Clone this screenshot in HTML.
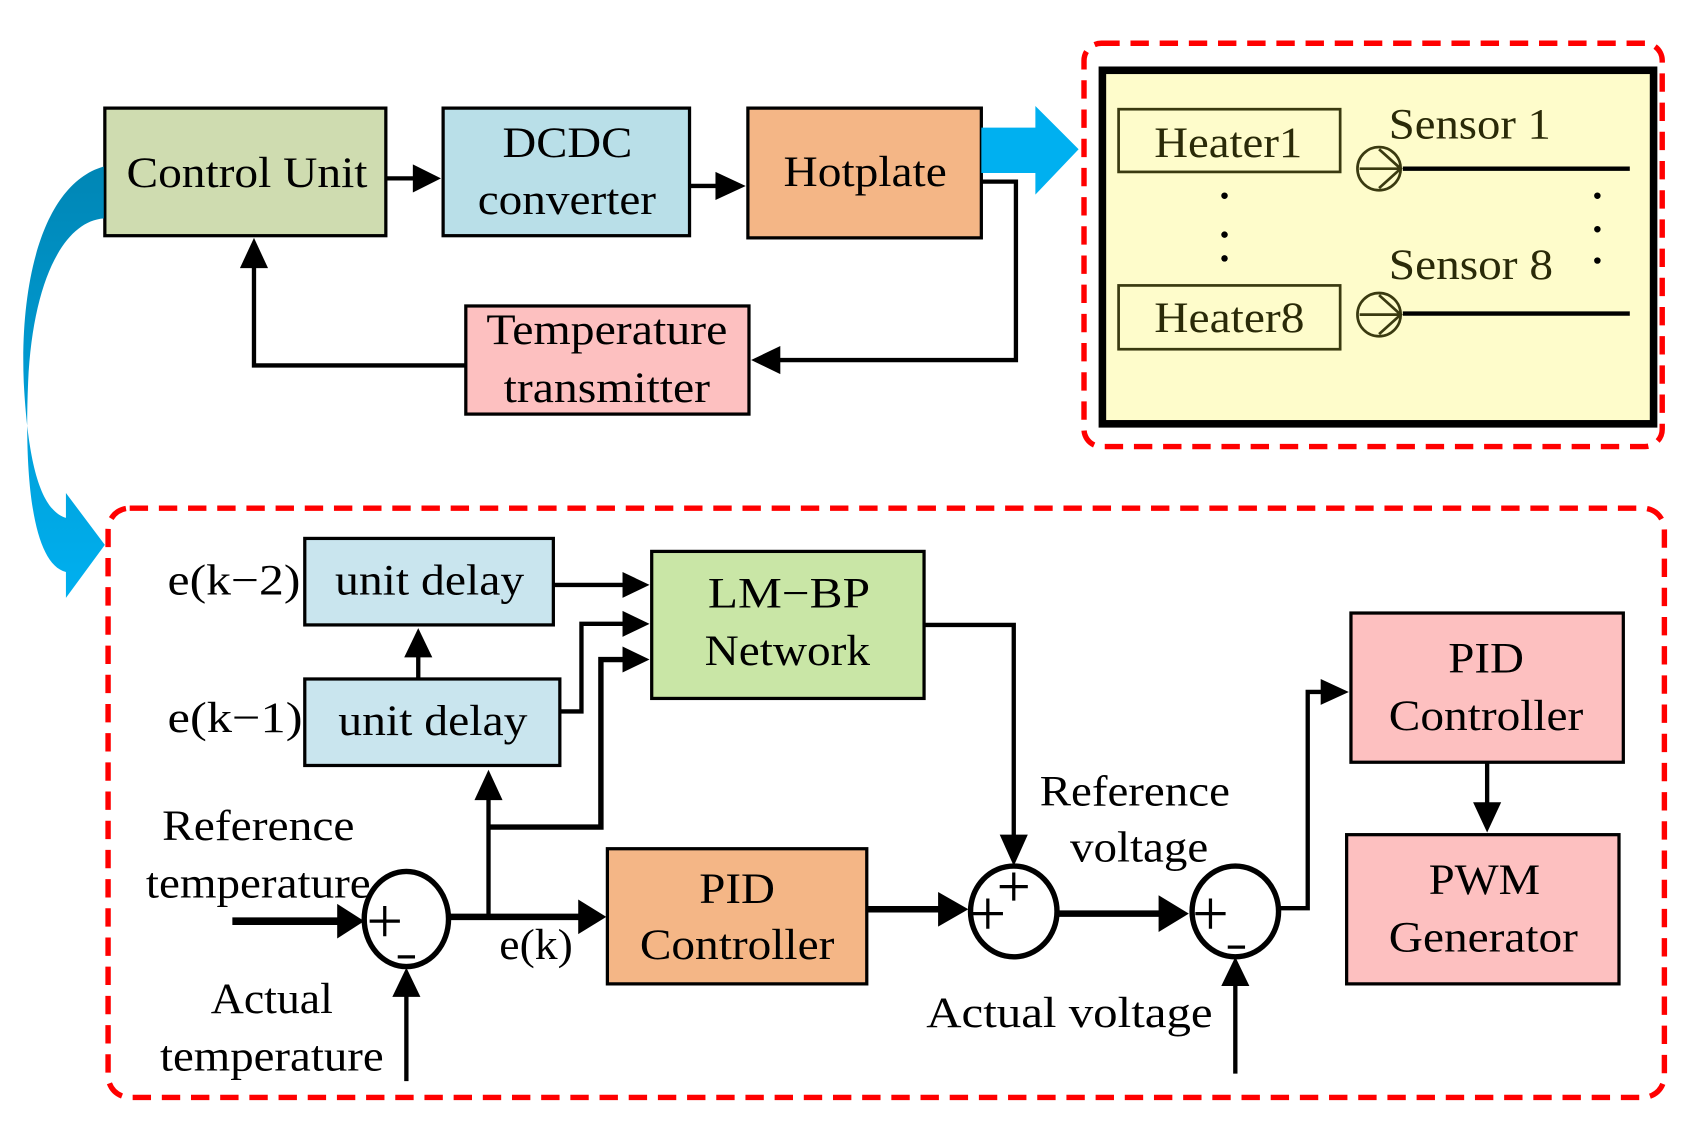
<!DOCTYPE html>
<html><head><meta charset="utf-8"><style>html,body{margin:0;padding:0;background:#fff}svg{display:block}</style></head>
<body>
<svg width="1686" height="1132" viewBox="0 0 1560 1047" preserveAspectRatio="none" xmlns="http://www.w3.org/2000/svg" font-family="'Liberation Serif', serif" font-size="40">
<defs>
<linearGradient id="g" x1="0" y1="0" x2="0" y2="1"><stop offset="0" stop-color="#0086b5"/><stop offset="1" stop-color="#00b0f0"/></linearGradient>
</defs>
<style>
.b{stroke:#000;stroke-width:3}
.l{stroke:#000;stroke-width:4;fill:none}
text{fill:#000}
</style>
<!-- top blocks -->
<rect x="97" y="100" width="260" height="118" fill="#cfdcb0" class="b"/>
<text x="117" y="173" textLength="223" lengthAdjust="spacingAndGlyphs">Control Unit</text>
<rect x="410" y="100" width="228" height="118" fill="#b9dfe8" class="b"/>
<text x="465" y="145" textLength="120" lengthAdjust="spacingAndGlyphs">DCDC</text>
<text x="442" y="198" textLength="165" lengthAdjust="spacingAndGlyphs">converter</text>
<rect x="692" y="100" width="216" height="120" fill="#f4b686" class="b"/>
<text x="725" y="172" textLength="151" lengthAdjust="spacingAndGlyphs">Hotplate</text>
<rect x="431" y="283" width="262" height="100" fill="#fdc0c0" class="b"/>
<text x="450" y="318" textLength="223" lengthAdjust="spacingAndGlyphs">Temperature</text>
<text x="466" y="372" textLength="191" lengthAdjust="spacingAndGlyphs">transmitter</text>
<!-- top arrows -->
<g fill="#000">
<line x1="357" y1="165" x2="385" y2="165" class="l"/><path d="M382,152 L408,165 L382,178 Z"/>
<line x1="638" y1="172" x2="665" y2="172" class="l"/><path d="M662,159 L690,172 L662,185 Z"/>
<polyline points="908,168 940,168 940,333 720,333" class="l"/><path d="M722,320 L695,333 L722,346 Z"/>
<polyline points="431,338 235,338 235,245" class="l"/><path d="M222,248 L235,220 L248,248 Z"/>
</g>
<path d="M908,118 L958,118 L958,98 L998,138 L958,180 L958,160 L908,160 Z" fill="#00b0f0"/>
<path d="M96,154 C40,170 18,260 22,354 C26,430 38,472 61,479 L61,456 L97,504 L61,553 L61,529 C32,522 22,450 26,354 C30,262 58,205 96,202 Z" fill="url(#g)"/>
<!-- right top region -->
<rect x="1003" y="40" width="535" height="373" rx="16" fill="none" stroke="#f00" stroke-width="5" stroke-dasharray="17,10"/>
<rect x="1020" y="65" width="510" height="327" fill="#fefccb" stroke="#000" stroke-width="7"/>
<g fill="none" stroke="#3a3a10" stroke-width="2.5">
<rect x="1035" y="101" width="205" height="58"/>
<rect x="1035" y="264" width="205" height="59"/>
<ellipse cx="1276" cy="156" rx="20" ry="20"/>
<ellipse cx="1276" cy="291" rx="20" ry="20"/>
<path d="M1258,156 L1296,156 M1276,138 L1296,156 L1276,174"/>
<path d="M1258,291 L1296,291 M1276,273 L1296,291 L1276,309"/>
</g>
<line x1="1298" y1="156" x2="1508" y2="156" stroke="#000" stroke-width="4"/>
<line x1="1298" y1="290" x2="1508" y2="290" stroke="#000" stroke-width="4"/>
<g fill="#000"><circle cx="1133" cy="181" r="3"/><circle cx="1133" cy="217" r="3"/><circle cx="1133" cy="239" r="3"/>
<circle cx="1478" cy="181" r="3"/><circle cx="1478" cy="212" r="3"/><circle cx="1478" cy="241" r="3"/></g>
<text x="1068" y="145" textLength="137" lengthAdjust="spacingAndGlyphs" style="fill:#2a2a08">Heater1</text>
<text x="1068" y="307" textLength="139" lengthAdjust="spacingAndGlyphs" style="fill:#2a2a08">Heater8</text>
<text x="1285" y="128" textLength="150" lengthAdjust="spacingAndGlyphs" style="fill:#2a2a08">Sensor 1</text>
<text x="1285" y="258" textLength="152" lengthAdjust="spacingAndGlyphs" style="fill:#2a2a08">Sensor 8</text>
<!-- bottom region -->
<rect x="100" y="470" width="1440" height="545" rx="20" fill="none" stroke="#f00" stroke-width="5" stroke-dasharray="17,10"/>
<rect x="282" y="498" width="230" height="80" fill="#c9e5ee" class="b"/>
<text x="310" y="550" textLength="175" lengthAdjust="spacingAndGlyphs">unit delay</text>
<rect x="282" y="628" width="236" height="80" fill="#c9e5ee" class="b"/>
<text x="313" y="680" textLength="175" lengthAdjust="spacingAndGlyphs">unit delay</text>
<text x="155" y="550" textLength="123" lengthAdjust="spacingAndGlyphs">e(k−2)</text>
<text x="155" y="677" textLength="125" lengthAdjust="spacingAndGlyphs">e(k−1)</text>
<rect x="603" y="510" width="252" height="136" fill="#c9e6a6" class="b"/>
<text x="655" y="562" textLength="150" lengthAdjust="spacingAndGlyphs">LM−BP</text>
<text x="652" y="615" textLength="153" lengthAdjust="spacingAndGlyphs">Network</text>
<rect x="562" y="785" width="240" height="125" fill="#f4b686" class="b"/>
<text x="647" y="835" textLength="70" lengthAdjust="spacingAndGlyphs">PID</text>
<text x="592" y="887" textLength="180" lengthAdjust="spacingAndGlyphs">Controller</text>
<rect x="1250" y="567" width="252" height="138" fill="#fdc0c0" class="b"/>
<text x="1340" y="622" textLength="70" lengthAdjust="spacingAndGlyphs">PID</text>
<text x="1285" y="675" textLength="180" lengthAdjust="spacingAndGlyphs">Controller</text>
<rect x="1246" y="772" width="252" height="138" fill="#fdc0c0" class="b"/>
<text x="1322" y="827" textLength="103" lengthAdjust="spacingAndGlyphs">PWM</text>
<text x="1285" y="880" textLength="175" lengthAdjust="spacingAndGlyphs">Generator</text>
<text x="150" y="777" textLength="178" lengthAdjust="spacingAndGlyphs">Reference</text>
<text x="135" y="830" textLength="208" lengthAdjust="spacingAndGlyphs">temperature</text>
<text x="195" y="937" textLength="113" lengthAdjust="spacingAndGlyphs">Actual</text>
<text x="148" y="990" textLength="207" lengthAdjust="spacingAndGlyphs">temperature</text>
<text x="462" y="887" textLength="68" lengthAdjust="spacingAndGlyphs">e(k)</text>
<text x="962" y="745" textLength="176" lengthAdjust="spacingAndGlyphs">Reference</text>
<text x="990" y="797" textLength="128" lengthAdjust="spacingAndGlyphs">voltage</text>
<text x="857" y="950" textLength="265" lengthAdjust="spacingAndGlyphs">Actual  voltage</text>
<!-- sum junctions -->
<g fill="#fff" stroke="#000" stroke-width="5">
<ellipse cx="376" cy="850" rx="39" ry="44"/>
<ellipse cx="938" cy="843" rx="40" ry="42"/>
<ellipse cx="1143" cy="843" rx="40" ry="42"/>
</g>
<g stroke="#000" stroke-width="3">
<path d="M342,852 H370 M356,838 V866"/><path d="M368,885 H384"/>
<path d="M925,820 H951 M938,807 V833"/><path d="M900,845 H928 M914,831 V859"/>
<path d="M1106,845 H1134 M1120,831 V859"/><path d="M1136,876 H1152"/>
</g>
<!-- bottom connectors -->
<g fill="#000">
<line x1="215" y1="852" x2="318" y2="852" stroke="#000" stroke-width="7"/><path d="M312,836 L337,852 L312,868 Z"/>
<line x1="376" y1="1000" x2="376" y2="920" class="l"/><path d="M363,922 L376,895 L389,922 Z"/>
<line x1="416" y1="848" x2="540" y2="848" stroke="#000" stroke-width="6"/><path d="M535,832 L561,848 L535,864 Z"/>
<line x1="452" y1="848" x2="452" y2="738" class="l"/><path d="M439,740 L452,712 L465,740 Z"/>
<polyline points="452,765 556,765 556,610 578,610" class="l" style="stroke-width:5"/><path d="M576,598 L601,610 L576,622 Z"/>
<polyline points="518,658 538,658 538,577 578,577" class="l"/><path d="M576,565 L601,577 L576,589 Z"/>
<line x1="512" y1="541" x2="578" y2="541" class="l"/><path d="M576,529 L601,541 L576,553 Z"/>
<line x1="387" y1="628" x2="387" y2="605" class="l"/><path d="M374,608 L387,581 L400,608 Z"/>
<line x1="802" y1="841" x2="872" y2="841" stroke="#000" stroke-width="6"/><path d="M868,825 L896,841 L868,857 Z"/>
<polyline points="855,578 938,578 938,775" class="l"/><path d="M925,772 L938,801 L951,772 Z"/>
<line x1="978" y1="845" x2="1075" y2="845" stroke="#000" stroke-width="6"/><path d="M1072,828 L1100,845 L1072,862 Z"/>
<line x1="1143" y1="993" x2="1143" y2="910" class="l"/><path d="M1130,912 L1143,885 L1156,912 Z"/>
<polyline points="1183,840 1210,840 1210,640 1225,640" class="l"/><path d="M1222,628 L1248,640 L1222,652 Z"/>
<line x1="1376" y1="705" x2="1376" y2="745" class="l"/><path d="M1363,742 L1376,770 L1389,742 Z"/>
</g>
</svg>
</body></html>
